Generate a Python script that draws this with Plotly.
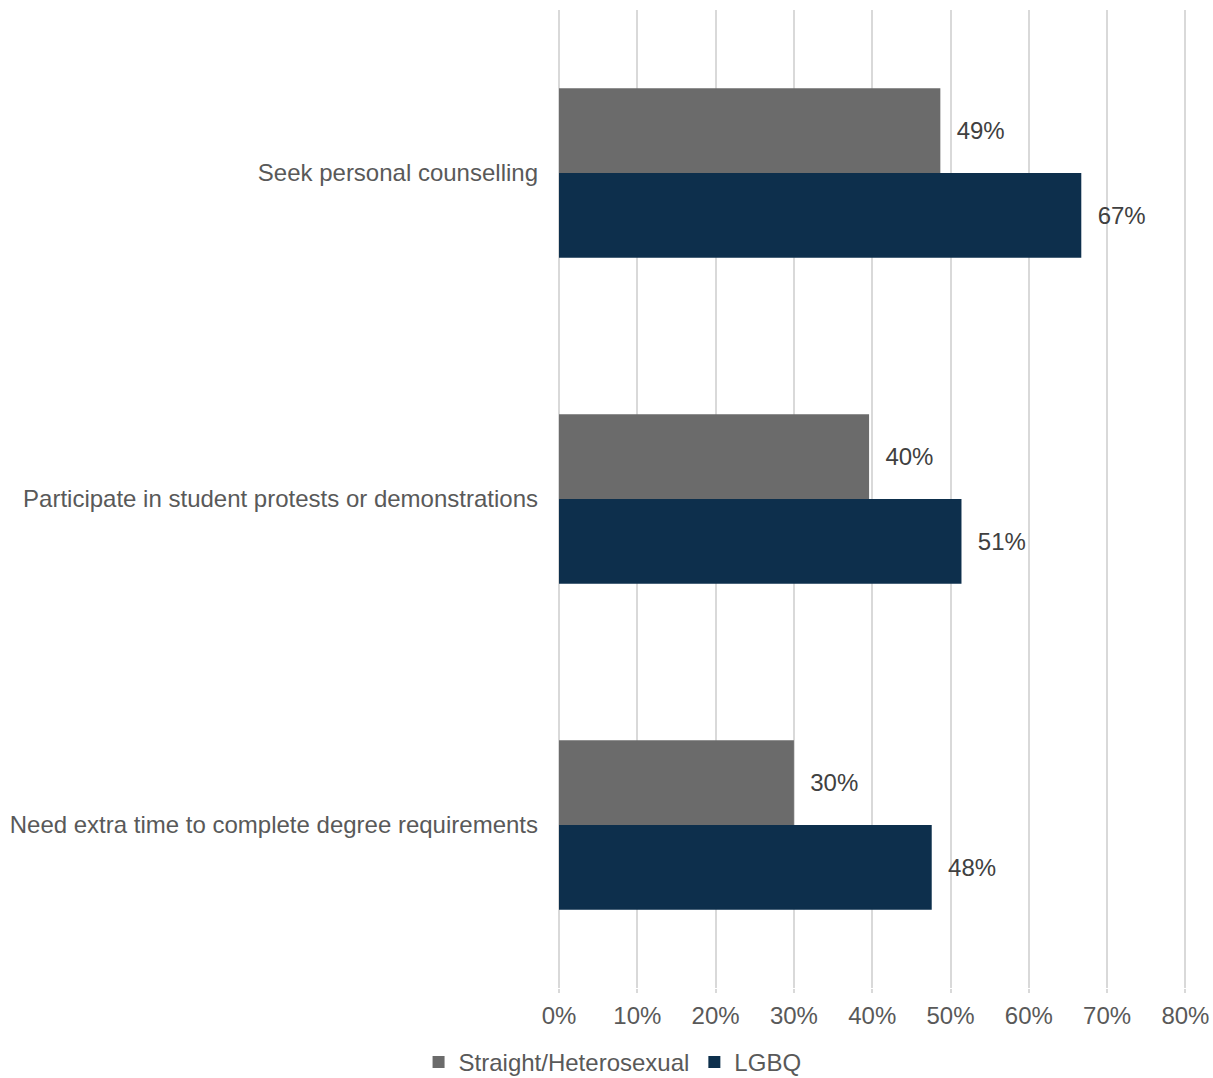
import plotly.graph_objects as go

# Survey items (top to bottom) and share of respondents per group, in percent
categories = [
    "Seek personal counselling",
    "Participate in student protests or demonstrations",
    "Need extra time to complete degree requirements",
]
straight_values = [48.7, 39.6, 30.0]
lgbq_values = [66.7, 51.4, 47.6]
x_ticks = [0, 10, 20, 30, 40, 50, 60, 70, 80]
x_tick_labels = [f"{t}%" for t in x_ticks]

series = [
    ("Straight/Heterosexual", straight_values, "#6B6B6B"),
    ("LGBQ", lgbq_values, "#0D2F4C"),
]

font_family = "Liberation Sans, Arial, sans-serif"
grid_color = "#D9D9D9"

fig = go.Figure()
for name, values, color in series:
    fig.add_trace(
        go.Bar(
            name=name,
            y=categories,
            x=values,
            orientation="h",
            marker=dict(color=color, line=dict(width=0)),
            texttemplate="  %{x:.0f}%",
            textposition="outside",
            textfont=dict(family=font_family, size=24, color="#404040"),
            cliponaxis=False,
            hoverinfo="skip",
        )
    )

fig.update_layout(
    width=1213,
    height=1078,
    barmode="group",
    bargap=0.48,
    bargroupgap=0,
    plot_bgcolor="white",
    paper_bgcolor="white",
    margin=dict(l=559, r=26, t=10, b=90),
    font=dict(family=font_family, size=24, color="#595959"),
    legend=dict(
        orientation="h",
        xref="container",
        yref="container",
        x=0.505,
        xanchor="center",
        y=0.0145,
        yanchor="middle",
        font=dict(size=24, color="#595959"),
        traceorder="normal",
        itemwidth=30,
    ),
    xaxis=dict(
        range=[0, 80.2],
        tickvals=x_ticks,
        ticktext=x_tick_labels,
        showgrid=True,
        gridcolor=grid_color,
        gridwidth=2,
        zeroline=True,
        zerolinecolor=grid_color,
        zerolinewidth=2,
        showline=False,
        ticks="outside",
        ticklen=4,
        tickcolor=grid_color,
        tickwidth=2,
        ticklabelstandoff=2,
        tickfont=dict(size=24, color="#595959"),
        automargin=False,
    ),
    yaxis=dict(
        autorange="reversed",
        showgrid=False,
        zeroline=False,
        showline=False,
        ticks="",
        ticklabelstandoff=20,
        tickfont=dict(size=24, color="#595959"),
        automargin=False,
    ),
)

fig.write_html("out.html")
